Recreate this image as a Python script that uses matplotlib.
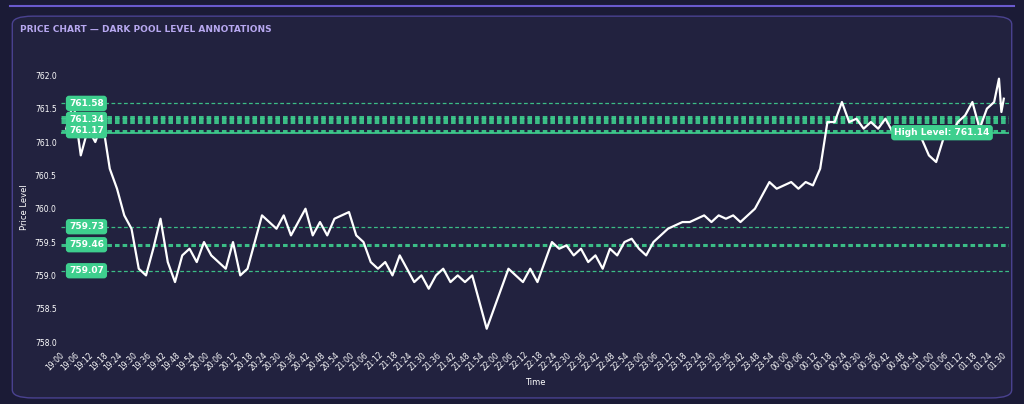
import matplotlib.pyplot as plt
import matplotlib.dates as mdates
from matplotlib.patches import FancyBboxPatch
import pandas as pd

prices = [761.2, 761.6, 760.8, 761.2, 761.0, 761.3, 760.6, 760.3, 759.9, 759.7,
          759.1, 759.0, 759.4, 759.85, 759.2, 758.9, 759.3, 759.4, 759.2, 759.5,
          759.3, 759.2, 759.1, 759.5, 759.0, 759.1, 759.5, 759.9, 759.8, 759.7,
          759.9, 759.6, 759.8, 760.0, 759.6, 759.8, 759.6, 759.85, 759.9, 759.95,
          759.6, 759.5, 759.2, 759.1, 759.2, 759.0, 759.3, 759.1, 758.9, 759.0,
          758.8, 759.0, 759.1, 758.9, 759.0, 758.9, 759.0, 758.6, 758.2, 758.5,
          758.8, 759.1, 759.0, 758.9, 759.1, 758.9, 759.2, 759.5, 759.4, 759.45,
          759.3, 759.4, 759.2, 759.3, 759.1, 759.4, 759.3, 759.5, 759.55, 759.4,
          759.3, 759.5, 759.6, 759.7, 759.75, 759.8, 759.8, 759.85, 759.9, 759.8,
          759.9, 759.85, 759.9, 759.8, 759.9, 760.0, 760.2, 760.4, 760.3, 760.35,
          760.4, 760.3, 760.4, 760.35, 760.6, 761.3, 761.3, 761.6, 761.3, 761.35,
          761.2, 761.3, 761.2, 761.35, 761.15, 761.15, 761.15, 761.1, 761.05, 760.8,
          760.7, 761.05, 761.1, 761.3, 761.4, 761.6, 761.2, 761.5, 761.6]
tail_prices = [761.95, 761.45, 761.65]

times = list(pd.date_range("2024-01-01 19:00", periods=len(prices), freq="3min"))
times += list(pd.date_range("2024-01-02 01:26", periods=len(tail_prices), freq="1min"))
prices = prices + tail_prices

thin_levels = [761.58, 759.73, 759.07]
thick_levels = [761.38, 761.34, 761.30, 761.17, 759.46]
label_levels = [761.58, 761.34, 761.17, 759.73, 759.46, 759.07]
high_level = 761.14

GREEN = "#3ecf8e"
BG = "#1b1b36"
PANEL = "#22223f"

fig = plt.figure(figsize=(10.24, 4.04), dpi=100, facecolor=BG)
fig.add_artist(plt.Line2D([0.01, 0.99], [0.985, 0.985], transform=fig.transFigure,
                          color="#6a5acd", lw=1.5, zorder=-2))
panel = FancyBboxPatch((0.012, 0.015), 0.976, 0.945, boxstyle="round,pad=0,rounding_size=0.02",
                       transform=fig.transFigure, facecolor=PANEL, edgecolor="#4a4290",
                       lw=1.0, zorder=-1)
fig.add_artist(panel)
fig.text(0.02, 0.92, "PRICE CHART — DARK POOL LEVEL ANNOTATIONS", color="#b7a8f0",
         fontsize=6.5, fontweight="bold")

ax = fig.add_axes([0.06, 0.145, 0.925, 0.685])
ax.set_facecolor(PANEL)
for s in ax.spines.values():
    s.set_visible(False)

x0, x1 = times[0], times[-1]
for lv in thin_levels:
    ax.axhline(lv, color=GREEN, lw=0.9, ls=(0, (3, 2)), alpha=0.9)
for lv in thick_levels:
    ax.axhline(lv, color=GREEN, lw=2.2, ls=(0, (1.5, 1)), alpha=0.9)
ax.axhline(high_level, color=GREEN, lw=1.2)

ax.plot(times, prices, color="white", lw=1.6)

for lv in label_levels:
    ax.text(0.008, lv, f"{lv:.2f}", transform=ax.get_yaxis_transform(), color="white",
            fontsize=6.5, fontweight="bold", va="center", ha="left",
            bbox=dict(boxstyle="round,pad=0.35", fc=GREEN, ec="none"))
ax.text(0.98, high_level, f"High Level: {high_level:.2f}", transform=ax.get_yaxis_transform(),
        color="white", fontsize=6.5, fontweight="bold", va="center", ha="right",
        bbox=dict(boxstyle="round,pad=0.35", fc=GREEN, ec="none"))

ax.set_ylim(757.95, 762.1)
ax.set_yticks([758.0, 758.5, 759.0, 759.5, 760.0, 760.5, 761.0, 761.5, 762.0])
ax.set_xlim(x0 - pd.Timedelta(minutes=2), x1 + pd.Timedelta(minutes=2))
ax.xaxis.set_major_locator(mdates.MinuteLocator(byminute=range(0, 60, 6)))
ax.xaxis.set_major_formatter(mdates.DateFormatter("%H:%M"))
ax.tick_params(colors="white", labelsize=5.5, length=0)
plt.setp(ax.get_xticklabels(), rotation=45, ha="right")
ax.set_xlabel("Time", color="white", fontsize=6)
ax.set_ylabel("Price Level", color="white", fontsize=6)

fig.savefig("out.png", dpi=100, facecolor=BG)
